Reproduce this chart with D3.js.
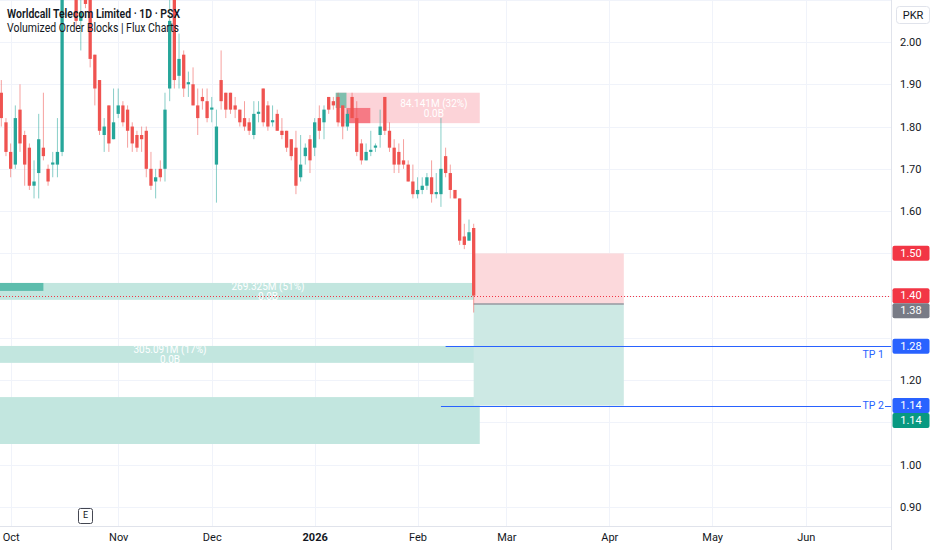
<!DOCTYPE html>
<html>
<head>
<meta charset="utf-8">
<script src="https://cdn.jsdelivr.net/npm/d3@7"></script>
<style>
  body { margin: 0; background: #fff; }
  svg { display: block; font-family: Roboto, "Noto Sans", sans-serif; }
</style>
</head>
<body>
<div id="chart"></div>
<script>
// Daily candles, Worldcall Telecom (PSX), one entry per trading day
const opens  = [1.88,1.81,1.74,1.71,1.84,1.78,1.75,1.66,1.69,1.75,1.70,1.71,1.71,1.74,2.14,2.26,2.18,2.05,2.14,2.12,
                1.97,1.91,1.78,1.85,1.77,1.83,1.85,1.84,1.80,1.78,1.78,1.79,1.70,1.67,1.70,1.70,1.89,2.14,1.92,1.97,
                1.90,1.90,1.85,1.87,1.86,1.84,1.71,1.91,1.88,1.88,1.85,1.84,1.82,1.81,1.78,1.83,1.89,1.85,1.81,1.83,
                1.79,1.79,1.77,1.75,1.68,1.73,1.77,1.75,1.82,1.81,1.87,1.86,1.87,1.85,1.80,1.87,1.82,1.76,1.72,1.74,
                1.75,1.78,1.87,1.79,1.75,1.74,1.72,1.71,1.67,1.64,1.65,1.66,1.68,1.64,1.64,1.73,1.69,1.65,1.63,1.54,
                1.53,1.56];
const highs  = [1.91,1.82,1.76,1.85,1.90,1.79,1.76,1.72,1.83,1.88,1.71,1.74,1.82,2.15,2.30,2.32,2.20,2.12,2.16,2.14,
                1.97,1.91,1.82,1.85,1.89,1.89,1.86,1.85,1.81,1.79,1.80,1.80,1.74,1.70,1.72,1.88,2.12,2.16,2.02,1.98,
                1.93,1.94,1.89,1.89,1.89,1.87,1.84,1.98,1.88,1.88,1.87,1.84,1.86,1.82,1.86,1.86,1.89,1.86,1.85,1.84,
                1.82,1.79,1.77,1.79,1.78,1.76,1.78,1.82,1.85,1.85,1.87,1.87,1.88,1.85,1.84,1.88,1.86,1.77,1.76,1.79,
                1.76,1.84,1.87,1.81,1.77,1.76,1.77,1.72,1.71,1.68,1.68,1.69,1.72,1.69,1.82,1.75,1.71,1.65,1.63,1.57,
                1.58,1.57];
const lows   = [1.80,1.73,1.68,1.70,1.74,1.66,1.65,1.63,1.63,1.72,1.66,1.68,1.68,1.73,2.12,2.15,2.03,1.98,2.08,1.94,
                1.85,1.78,1.74,1.74,1.77,1.82,1.80,1.75,1.74,1.74,1.74,1.68,1.65,1.63,1.67,1.67,1.86,1.89,1.89,1.87,
                1.87,1.85,1.78,1.84,1.81,1.81,1.62,1.84,1.82,1.83,1.82,1.80,1.79,1.78,1.77,1.81,1.80,1.79,1.80,1.79,
                1.77,1.74,1.72,1.64,1.67,1.71,1.69,1.73,1.77,1.77,1.83,1.84,1.80,1.77,1.79,1.82,1.73,1.71,1.72,1.73,
                1.74,1.75,1.78,1.74,1.69,1.69,1.70,1.67,1.63,1.63,1.64,1.65,1.62,1.63,1.61,1.68,1.63,1.63,1.52,1.51,
                1.53,1.36];
const closes = [1.82,1.74,1.70,1.82,1.76,1.71,1.66,1.67,1.77,1.73,1.67,1.715,1.74,2.14,2.26,2.18,2.05,2.07,2.09,1.96,
                1.89,1.79,1.80,1.76,1.81,1.85,1.81,1.79,1.76,1.75,1.77,1.70,1.66,1.68,1.68,1.84,2.05,1.91,1.96,1.89,
                1.905,1.85,1.82,1.86,1.82,1.845,1.80,1.86,1.84,1.84,1.84,1.81,1.80,1.79,1.83,1.835,1.81,1.80,1.815,1.79,
                1.78,1.75,1.73,1.66,1.71,1.75,1.72,1.81,1.79,1.84,1.84,1.85,1.81,1.80,1.83,1.82,1.74,1.72,1.74,1.745,
                1.755,1.80,1.79,1.75,1.71,1.71,1.71,1.67,1.64,1.65,1.66,1.68,1.64,1.645,1.70,1.69,1.65,1.63,1.53,1.52,
                1.55,1.40];

// Time axis: label text and the bar index where each month starts
const months    = ["Oct", "Nov", "Dec", "2026", "Feb", "Mar", "Apr", "May", "Jun"];
const monthBars = [2, 25, 45, 67, 89, 108, 130, 152, 172];

// Price axis ticks
const priceTicks = [0.90, 1.00, 1.10, 1.20, 1.30, 1.40, 1.50, 1.60, 1.70, 1.80, 1.90, 2.00];

// Volumized order blocks: bar range, price range, bull / bear volume bar lengths (bars)
const obTypes   = ["bear", "bull", "bull", "bull"];
const obStart   = [72, -40, -40, -40];
const obEnd     = [102.3, 101, 102.3, 102.3];
const obTop     = [1.88, 1.43, 1.281, 1.160];
const obBottom  = [1.808, 1.39, 1.241, 1.049];
const obBullLen = [2.3, 49, 0, 0];
const obBearLen = [5.1, 0, 0, 0];
const obLabel1  = ["84.141M (32%)", "269.325M (51%)", "305.091M (17%)", ""];
const obLabel2  = ["0.0B", "0.0B", "0.0B", ""];

// Long position tool
const posStartBar = 101;
const posEndBar   = 133.1;
const entryPrice  = 1.38;
const stopPrice   = 1.50;
const targetPrice = 1.14;

// Take-profit lines
const tpNames  = ["TP 1", "TP 2"];
const tpPrices = [1.28, 1.14];
const tpStart  = [95, 94];

// Price scale marks
const markNames  = ["stop", "last", "entry", "tp1", "tp2", "target"];
const markPrices = [1.50, 1.40, 1.38, 1.28, 1.14, 1.14];
const lastPrice  = 1.40;
const earningsBar = 18;

const markColor = { stop: "#f23645", last: "#f23645", entry: "#787b86", tp1: "#2962ff", tp2: "#2962ff", target: "#089981" };

const width = 932, height = 550;
const plotRight = 891, plotBottom = 526;
const barStep = 4.677;

const candles = opens.map((o, i) => ({ i: i, o: o, h: highs[i], l: lows[i], c: closes[i] }));

const svg = d3.select("#chart").append("svg")
  .attr("width", width)
  .attr("height", height);

// Scales
const x = d3.scaleLinear()
  .domain([0, 190])
  .range([1.3, 1.3 + 190 * barStep]);
const y = d3.scaleLinear()
  .domain([0.9, 2.0])
  .range([507, 42]);

svg.append("clipPath").attr("id", "plotClip")
  .append("rect").attr("x", 0).attr("y", 0).attr("width", plotRight).attr("height", plotBottom);

const plot = svg.append("g").attr("clip-path", "url(#plotClip)");

// Grid
plot.append("g").selectAll("line")
  .data(priceTicks.concat([2.10]))
  .join("line")
  .attr("x1", 0).attr("x2", plotRight)
  .attr("y1", d => Math.round(y(d)) + 0.5).attr("y2", d => Math.round(y(d)) + 0.5)
  .attr("stroke", "#f0f3fa");
plot.append("g").selectAll("line")
  .data(monthBars)
  .join("line")
  .attr("x1", d => Math.round(x(d)) + 0.5).attr("x2", d => Math.round(x(d)) + 0.5)
  .attr("y1", 0).attr("y2", plotBottom)
  .attr("stroke", "#f0f3fa");

// Order blocks
const obs = obTypes.map((t, k) => ({ t: t, s: obStart[k], e: obEnd[k], top: obTop[k], bot: obBottom[k],
  bull: obBullLen[k], bear: obBearLen[k], l1: obLabel1[k], l2: obLabel2[k] }));

const obG = plot.append("g");
obs.forEach(ob => {
  const x0 = Math.max(-2, x(ob.s)), x1 = x(ob.e);
  const y0 = y(ob.top), y1 = y(ob.bot);
  obG.append("rect")
    .attr("x", x0).attr("y", y0).attr("width", x1 - x0).attr("height", y1 - y0)
    .attr("fill", ob.t === "bear" ? "#fcd3d8" : "#c2e6df");
  const mid = (y0 + y1) / 2;
  if (ob.bull > 0) {
    if (ob.t === "bear") {
      obG.append("rect")
        .attr("x", x(ob.s) - barStep / 2).attr("y", y0).attr("width", ob.bull * barStep).attr("height", mid - y0)
        .attr("fill", "#7fbfae");
    } else {
      obG.append("rect")
        .attr("x", x0).attr("y", y0).attr("width", x(ob.s + ob.bull) - x0).attr("height", mid - y0 - 0.5)
        .attr("fill", "#5dbdad");
    }
  }
  if (ob.bear > 0) {
    const bx = x(ob.s) - barStep / 2 + ob.bull * barStep;
    obG.append("rect")
      .attr("x", bx).attr("y", mid).attr("width", ob.bear * barStep).attr("height", y1 - mid)
      .attr("fill", "#f67a85");
  }
  if (ob.l1) {
    const cx = ob.t === "bear" ? (x(ob.s) + x1) / 2 + 25 : (ob.top > 1.35 ? 268 : 170);
    obG.append("text")
      .attr("x", cx).attr("y", mid - 4)
      .attr("text-anchor", "middle").attr("dominant-baseline", "middle")
      .attr("font-size", 10).attr("fill", "#ffffff")
      .text(ob.l1);
    obG.append("text")
      .attr("x", cx).attr("y", mid + 6)
      .attr("text-anchor", "middle").attr("dominant-baseline", "middle")
      .attr("font-size", 10).attr("fill", "#ffffff")
      .text(ob.l2);
  }
});

// Long position zones
plot.append("rect")
  .attr("x", x(posStartBar)).attr("y", y(stopPrice))
  .attr("width", x(posEndBar) - x(posStartBar)).attr("height", y(entryPrice) - y(stopPrice))
  .attr("fill", "#fcd9dc");
plot.append("rect")
  .attr("x", x(posStartBar)).attr("y", y(entryPrice))
  .attr("width", x(posEndBar) - x(posStartBar)).attr("height", y(targetPrice) - y(entryPrice))
  .attr("fill", "#cde9e4");
plot.append("line")
  .attr("x1", x(posStartBar)).attr("x2", x(posEndBar))
  .attr("y1", y(entryPrice)).attr("y2", y(entryPrice))
  .attr("stroke", "#9598a1").attr("stroke-width", 1.5);

// Last price line
plot.append("line")
  .attr("x1", 0).attr("x2", plotRight)
  .attr("y1", Math.round(y(lastPrice)) + 0.5).attr("y2", Math.round(y(lastPrice)) + 0.5)
  .attr("stroke", "#f23645").attr("stroke-dasharray", "1,2");

// Candles
const up = "#26a69a", down = "#ef5350";
const cg = plot.append("g");
cg.selectAll("line")
  .data(candles)
  .join("line")
  .attr("x1", d => x(d.i)).attr("x2", d => x(d.i))
  .attr("y1", d => y(d.h)).attr("y2", d => y(d.l))
  .attr("stroke", d => d.c >= d.o ? up : down)
  .attr("stroke-opacity", 0.55)
  .attr("stroke-width", 1);
cg.selectAll("rect")
  .data(candles)
  .join("rect")
  .attr("x", d => x(d.i) - 1.65)
  .attr("width", 3.3)
  .attr("y", d => y(Math.max(d.o, d.c)))
  .attr("height", d => Math.max(1, Math.abs(y(d.o) - y(d.c))))
  .attr("fill", d => d.c >= d.o ? up : down);

// Take-profit lines
tpNames.forEach((name, k) => {
  const yy = Math.round(y(tpPrices[k])) + 0.5;
  plot.append("line")
    .attr("x1", x(tpStart[k])).attr("x2", plotRight)
    .attr("y1", yy).attr("y2", yy)
    .attr("stroke", "#2962ff").attr("stroke-width", 1.2);
  if (k === 0) {
    plot.append("text")
      .attr("x", 884).attr("y", yy + 11)
      .attr("text-anchor", "end").attr("font-size", 10.5).attr("fill", "#2962ff")
      .text(name);
  } else {
    plot.append("rect").attr("x", 861).attr("y", yy - 7).attr("width", 24).attr("height", 14).attr("fill", "#fff");
    plot.append("text")
      .attr("x", 884).attr("y", yy)
      .attr("text-anchor", "end").attr("dominant-baseline", "middle")
      .attr("font-size", 10.5).attr("fill", "#2962ff")
      .text(name);
  }
});

// Earnings marker
const eg = svg.append("g").attr("transform", `translate(${x(earningsBar)},516)`);
eg.append("rect").attr("x", -7).attr("y", -7.5).attr("width", 14).attr("height", 15).attr("rx", 2)
  .attr("fill", "#fff").attr("stroke", "#434651").attr("stroke-width", 1);
eg.append("text").attr("text-anchor", "middle").attr("dominant-baseline", "middle")
  .attr("font-size", 9).attr("fill", "#131722").text("E");

// Axis borders
svg.append("line").attr("x1", 0).attr("x2", plotRight).attr("y1", plotBottom + 0.5).attr("y2", plotBottom + 0.5)
  .attr("stroke", "#e0e3eb");
svg.append("line").attr("x1", plotRight + 0.5).attr("x2", plotRight + 0.5).attr("y1", 0).attr("y2", height)
  .attr("stroke", "#e0e3eb");

// Time axis
const xAxis = svg.append("g")
  .attr("transform", `translate(0,${plotBottom})`)
  .call(d3.axisBottom(x).tickValues(monthBars).tickFormat((d, i) => months[i]).tickSize(0).tickPadding(7));
xAxis.select(".domain").remove();
xAxis.selectAll("text")
  .attr("font-size", 11).attr("fill", "#131722")
  .attr("font-family", "Roboto, 'Noto Sans', sans-serif")
  .attr("font-weight", (d, i) => months[i] === "2026" ? 700 : 400);

// Price scale marks, stacked when they overlap
const labelH = 15;
let prevBottom = -Infinity;
const marks = markNames.map((n, k) => ({ n: n, p: markPrices[k], cy: y(markPrices[k]) }));
marks.sort((a, b) => a.cy - b.cy);
marks.forEach(m => {
  let top = m.cy - labelH / 2;
  if (top < prevBottom) top = prevBottom;
  prevBottom = top + labelH;
  m.top = top;
});

// Price axis (tick labels hidden where a mark covers them)
const covered = t => marks.some(m => y(t) > m.top - 6 && y(t) < m.top + labelH + 6);
const yAxis = svg.append("g")
  .attr("transform", `translate(${plotRight},0)`)
  .call(d3.axisRight(y).tickValues(priceTicks.filter(t => !covered(t))).tickFormat(d3.format(".2f")).tickSize(0).tickPadding(9));
yAxis.select(".domain").remove();
yAxis.selectAll("text")
  .attr("font-size", 11).attr("fill", "#131722")
  .attr("font-family", "Roboto, 'Noto Sans', sans-serif");

marks.forEach(m => {
  svg.append("rect")
    .attr("x", plotRight + 1.5).attr("y", m.top).attr("width", 37).attr("height", labelH).attr("rx", 2)
    .attr("fill", markColor[m.n]);
  svg.append("text")
    .attr("x", plotRight + 20).attr("y", m.top + labelH / 2)
    .attr("text-anchor", "middle").attr("dominant-baseline", "central")
    .attr("font-size", 11).attr("fill", "#fff")
    .text(d3.format(".2f")(m.p));
});

// Currency box
svg.append("rect").attr("x", 896.5).attr("y", 6.5).attr("width", 33).attr("height", 17).attr("rx", 3)
  .attr("fill", "#fff").attr("stroke", "#e0e3eb");
svg.append("text").attr("x", 913).attr("y", 15)
  .attr("text-anchor", "middle").attr("dominant-baseline", "central")
  .attr("font-size", 11).attr("fill", "#131722").text("PKR");

// Titles
svg.append("text").attr("x", 7).attr("y", 18)
  .attr("font-size", 12).attr("font-weight", 600).attr("fill", "#131722")
  .attr("textLength", 173).attr("lengthAdjust", "spacingAndGlyphs")
  .text("Worldcall Telecom Limited · 1D · PSX");
svg.append("text").attr("x", 7).attr("y", 32)
  .attr("font-size", 12).attr("fill", "#131722")
  .attr("textLength", 172).attr("lengthAdjust", "spacingAndGlyphs")
  .text("Volumized Order Blocks | Flux Charts");
</script>
</body>
</html>
